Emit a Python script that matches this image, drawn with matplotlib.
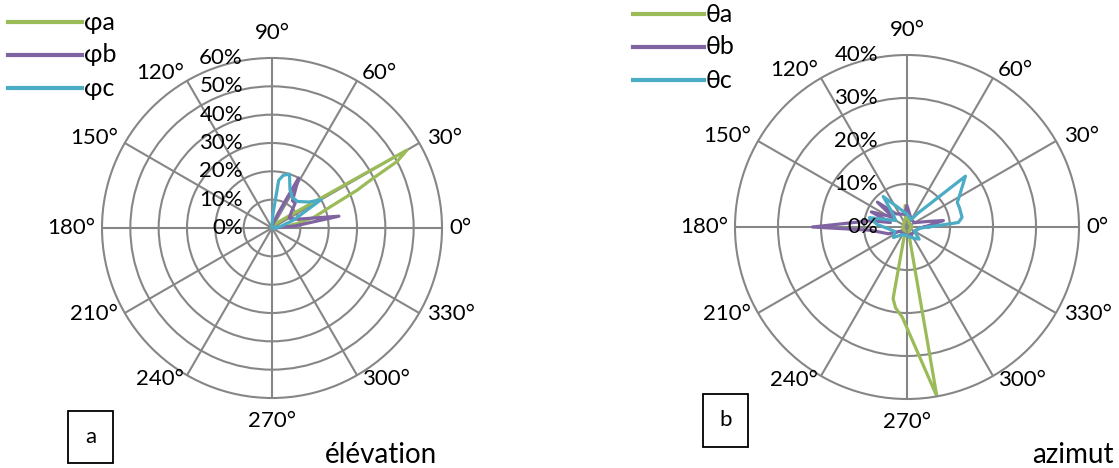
import numpy as np
import matplotlib
matplotlib.use("Agg")
import matplotlib.pyplot as plt
from matplotlib.lines import Line2D
from matplotlib.patches import Rectangle

# ---- data (percent of observations per direction) ----
angle_ticks = [0, 30, 60, 90, 120, 150, 180, 210, 240, 270, 300, 330]

# elevation distributions
phi_a_deg = [0, 5, 10, 14, 20, 24, 26, 28, 30, 35, 40, 50, 60, 90, 180, 270, 355]
phi_a_val = [0, 4, 9, 15, 22, 33, 39, 50, 55, 8, 4, 2, 0.5, 0, 0, 0, 0]
phi_b_deg = [0, 5, 10, 15, 20, 30, 40, 47, 53, 62, 67, 75, 90, 180, 270, 355]
phi_b_val = [1, 8, 24, 13, 9, 7, 9, 12, 12, 20, 6, 2, 0, 0, 0, 0]
phi_c_deg = [0, 10, 20, 30, 35, 46, 57, 65, 72, 78, 82, 86, 90, 180, 270, 355]
phi_c_val = [1, 3, 8, 20, 16, 13, 13, 15, 20, 19, 17, 5, 1, 0, 0, 0]

# azimuth distributions
theta_a_deg = [0, 30, 60, 90, 95, 100, 150, 200, 230, 250, 259, 262, 267, 280, 284, 300, 355]
theta_a_val = [1, 1, 1, 4, 5, 2, 1, 1, 1, 1.5, 17, 19, 21, 40, 2, 1, 1]
theta_b_deg = [0, 10, 15, 30, 60, 90, 100, 130, 140, 145, 157, 165, 170, 180, 185, 200, 210, 270, 300, 330, 355]
theta_b_val = [4, 8.6, 5, 2, 2, 5, 3, 4, 9, 4, 9, 4, 8.5, 22, 8.6, 4.6, 2, 2, 2, 2, 3]
theta_c_deg = [0, 5, 10, 20, 26, 30, 41, 52, 60, 90, 128, 135, 150, 166, 175, 200, 218, 240, 270, 300, 315, 330, 355]
theta_c_val = [5, 12, 13, 13, 13, 14, 18, 4, 2, 3, 9, 5, 3, 9, 7, 3, 4, 2, 2, 3, 4, 2, 3]

# ---- style ----
W, H, DPI = 1119, 468, 100
GREEN, PURPLE, CYAN = "#9BBB59", "#8064A2", "#4BACC6"
GRID = "#868686"
FONT = ["Lato", "Noto Sans", "DejaVu Sans"]
FS = 16

plt.rcParams["font.family"] = FONT

fig = plt.figure(figsize=(W / DPI, H / DPI), dpi=DPI)


def px(x, y):
    """pixel position (from top-left) -> figure fraction"""
    return x / W, 1 - y / H


# label placement around the outer ring: (ha, dx px, dy px)
LABEL_PLACE = {
    0: ("left", 7, 0), 30: ("left", 8, -5), 60: ("left", 5, -8),
    90: ("center", 0, -25), 120: ("right", -3, -8), 150: ("right", -7, -5),
    180: ("right", -7, 0), 210: ("right", -7, 1), 240: ("right", -3, 4),
    270: ("center", 0, 23), 300: ("left", 5, 4), 330: ("left", 8, 1),
}


def polar_panel(cx, cy, R, series, rmax, rstep):
    ax = fig.add_axes([(cx - R) / W, (H - cy - R) / H, 2 * R / W, 2 * R / H],
                      projection="polar")
    for deg, val, color in series:
        th = np.deg2rad(np.r_[deg, deg[0]])
        v = np.r_[val, val[0]]
        ax.plot(th, v, color=color, lw=2.3, solid_joinstyle="round")
    ax.set_ylim(0, rmax)
    ax.set_xticks(np.deg2rad(angle_ticks))
    ax.set_xticklabels([])
    ax.set_yticks(np.arange(rstep, rmax, rstep))
    ax.set_yticklabels([])
    ax.tick_params(length=0)
    ax.grid(True, color=GRID, lw=1.5)
    ax.spines["polar"].set_color(GRID)
    ax.spines["polar"].set_linewidth(1.5)

    # angle labels outside the ring
    for a in angle_ticks:
        ha, dx, dy = LABEL_PLACE[a]
        ax.annotate(f"{a}°", xy=(np.deg2rad(a), rmax), xycoords="data",
                    xytext=(dx * 0.72, -dy * 0.72), textcoords="offset points",
                    ha=ha, va="center", fontsize=FS, annotation_clip=False)
    # radial labels left of the vertical spoke
    for r in np.arange(0, rmax + rstep / 2, rstep):
        ax.annotate(f"{int(r)}%", xy=(np.pi / 2, r), xycoords="data",
                    xytext=(-29 * 0.72, 0), textcoords="offset points",
                    ha="right", va="center", fontsize=FS, annotation_clip=False)
    return ax


polar_panel(272, 228, 170,
            [(phi_a_deg, phi_a_val, GREEN), (phi_b_deg, phi_b_val, PURPLE),
             (phi_c_deg, phi_c_val, CYAN)], 60, 10)
polar_panel(907, 227, 172,
            [(theta_a_deg, theta_a_val, GREEN), (theta_b_deg, theta_b_val, PURPLE),
             (theta_c_deg, theta_c_val, CYAN)], 40, 10)

# legends
def legend_block(x0, x1, ys, labels):
    for y, lab, col in zip(ys, labels, [GREEN, PURPLE, CYAN]):
        fig.add_artist(Line2D([x0 / W, x1 / W], [1 - y / H] * 2,
                              transform=fig.transFigure, color=col, lw=3))
        fig.text(*px(x1 + 2, y), lab, ha="left", va="center", fontsize=FS + 2)


legend_block(8, 82, [22, 55, 88], ["φa", "φb", "φc"])
legend_block(633, 704, [14, 47, 80], ["θa", "θb", "θc"])

# panel tags
for (x, y, w, h, t) in [(68, 411, 45, 52, "a"), (703, 394, 45, 53, "b")]:
    fig.add_artist(Rectangle(px(x, y + h), w / W, h / H, transform=fig.transFigure,
                             fill=False, ec="black", lw=1.3))
    fig.text(*px(x + w / 2, y + h / 2), t, ha="center", va="center", fontsize=FS)

fig.text(*px(381, 455), "élévation", ha="center", va="center", fontsize=20)
fig.text(*px(1073, 455), "azimut", ha="center", va="center", fontsize=20)

fig.savefig("out.png", dpi=DPI)
